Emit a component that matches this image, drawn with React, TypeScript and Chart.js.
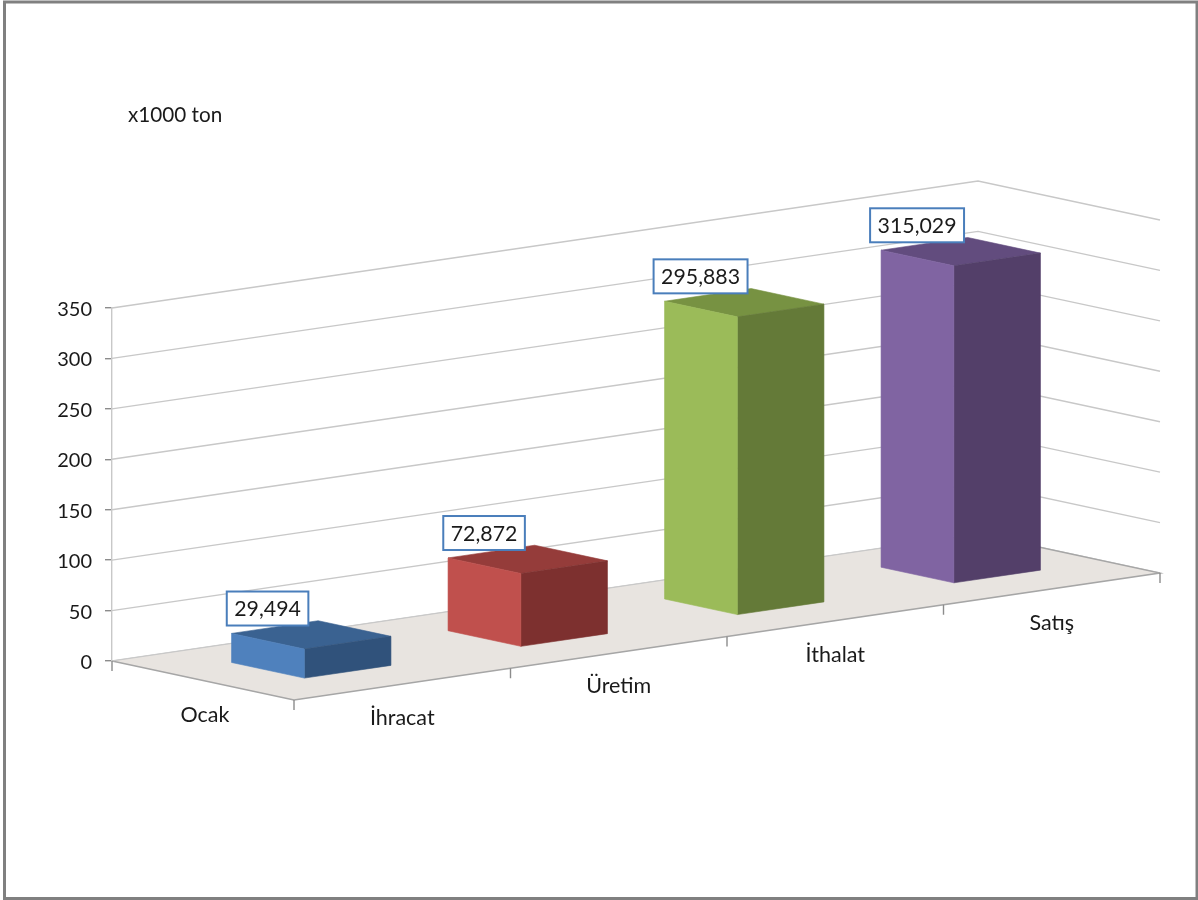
import React, { useEffect, useRef } from "react";
import { Chart, registerables } from "chart.js";

Chart.register(...registerables);

const categories = ["İhracat", "Üretim", "İthalat", "Satış"];
const seriesName = "Ocak";
const values = [29.494, 72.872, 295.883, 315.029];
const unitLabel = "x1000 ton";

const frontColors = ["#4F81BD", "#C0504D", "#9BBB59", "#8064A2"];
const topColors = ["#3A6291", "#953C3A", "#779242", "#624C7E"];
const sideColors = ["#30527B", "#7D302F", "#647A38", "#533F69"];

const FONT = "Lato, 'Open Sans', sans-serif";
const TEXT = "#1a1a1a";
const GRID = "#c8c8c8";
const AXIS = "#a6a6a6";
const FLOOR = "#E8E4E0";
const BOX = "#4A7EBB";

// oblique projection of the 3-D box: depth runs to the lower right, categories rise to the right
const DEPTH_X = 182;
const DEPTH_Y = 39;
const RISE = 127;

const chart3d = {
  id: "chart3d",
  beforeDatasetsDraw(chart: any) {
    const { ctx, chartArea: a, scales } = chart;
    const w = a.right - a.left;
    const P = (x: number, y: number, v: number) => [
      x + DEPTH_X * v,
      y - (RISE * (x - a.left)) / w + DEPTH_Y * v,
    ];
    const line = (pts: number[][], color: string, lw = 1.4) => {
      ctx.beginPath();
      pts.forEach((p, i) => (i ? ctx.lineTo(p[0], p[1]) : ctx.moveTo(p[0], p[1])));
      ctx.strokeStyle = color;
      ctx.lineWidth = lw;
      ctx.stroke();
    };
    ctx.save();
    // page frame
    ctx.strokeStyle = "#808080";
    ctx.lineWidth = 3;
    ctx.strokeRect(4.5, 2, 1192.5, 896.5);

    // unit caption
    ctx.fillStyle = TEXT;
    ctx.font = `20.7px ${FONT}`;
    ctx.textAlign = "left";
    ctx.textBaseline = "middle";
    ctx.fillText(unitLabel, 128, 115);

    // wall grid lines, one for each value tick
    scales.y.ticks.forEach((t: any) => {
      const y = scales.y.getPixelForValue(t.value);
      line([[a.left, y], P(a.right, y, 0), P(a.right, y, 1)], GRID);
    });

    // floor
    const b = a.bottom;
    const floor = [P(a.left, b, 0), P(a.right, b, 0), P(a.right, b, 1), P(a.left, b, 1)];
    ctx.beginPath();
    floor.forEach((p, i) => (i ? ctx.lineTo(p[0], p[1]) : ctx.moveTo(p[0], p[1])));
    ctx.closePath();
    ctx.fillStyle = FLOOR;
    ctx.fill();
    line([floor[0], floor[3], floor[2], floor[1]], AXIS, 1.4);
    line([floor[0], floor[1]], GRID, 1);

    // category ticks on the floor's front edge and the depth-axis tick
    const n = categories.length;
    for (let i = 0; i <= n; i++) {
      const p = P(a.left + (w * i) / n, b, 1);
      line([p, [p[0], p[1] + 10]], "#8c8c8c", 1.4);
    }
    line([[a.left, b], [a.left, b + 10]], "#8c8c8c", 1.4);

    // category labels and the series name on the depth axis
    ctx.fillStyle = TEXT;
    ctx.font = `21.5px ${FONT}`;
    ctx.textAlign = "center";
    categories.forEach((c, i) => {
      const p = P(scales.x.getPixelForTick(i), b, 1);
      ctx.fillText(c, p[0], p[1] + 34);
    });
    const mid = P(a.left, b, 0.5);
    ctx.fillText(seriesName, mid[0] + 2, mid[1] + 35);
    ctx.restore();
  },
  afterDatasetsDraw(chart: any) {
    const { ctx, chartArea: a } = chart;
    const w = a.right - a.left;
    const P = (x: number, y: number, v: number) => [
      x + DEPTH_X * v,
      y - (RISE * (x - a.left)) / w + DEPTH_Y * v,
    ];
    const poly = (pts: number[][], color: string) => {
      ctx.beginPath();
      pts.forEach((p, i) => (i ? ctx.lineTo(p[0], p[1]) : ctx.moveTo(p[0], p[1])));
      ctx.closePath();
      ctx.fillStyle = color;
      ctx.strokeStyle = color;
      ctx.lineWidth = 0.6;
      ctx.fill();
      ctx.stroke();
    };
    const meta = chart.getDatasetMeta(0);
    ctx.save();
    const bars = meta.data.map((el: any) => el.getProps(["x", "y", "base", "width"], true));
    bars.forEach((bar: any, i: number) => {
      const l = bar.x - bar.width / 2;
      const r = bar.x + bar.width / 2;
      const v0 = 0.3;
      const v1 = 0.7;
      poly([P(l, bar.y, v0), P(r, bar.y, v0), P(r, bar.y, v1), P(l, bar.y, v1)], topColors[i]);
      poly([P(l, bar.y, v1), P(r, bar.y, v1), P(r, bar.base, v1), P(l, bar.base, v1)], sideColors[i]);
      poly([P(l, bar.y, v0), P(l, bar.y, v1), P(l, bar.base, v1), P(l, bar.base, v0)], frontColors[i]);
    });
    ctx.font = `21.3px ${FONT}`;
    ctx.textAlign = "center";
    ctx.textBaseline = "middle";
    bars.forEach((bar: any, i: number) => {
      const text = values[i].toFixed(3).replace(".", ",");
      const c = P(bar.x, bar.y, 0.26);
      const cx = c[0];
      const cy = c[1] - 17;
      const tw = ctx.measureText(text).width + 15;
      const th = 34;
      ctx.fillStyle = "#ffffff";
      ctx.fillRect(cx - tw / 2, cy - th / 2, tw, th);
      ctx.strokeStyle = BOX;
      ctx.lineWidth = 2;
      ctx.strokeRect(cx - tw / 2, cy - th / 2, tw, th);
      ctx.fillStyle = TEXT;
      ctx.fillText(text, cx, cy + 1);
    });
    ctx.restore();
  },
};

export default function App() {
  const ref = useRef<HTMLCanvasElement>(null);
  useEffect(() => {
    const chart = new Chart(ref.current as HTMLCanvasElement, {
      type: "bar",
      data: {
        labels: categories,
        datasets: [
          {
            label: seriesName,
            data: values,
            backgroundColor: "transparent",
            barPercentage: 0.4,
            categoryPercentage: 1,
          },
        ],
      },
      options: {
        responsive: false,
        animation: false,
        devicePixelRatio: 1,
        layout: { padding: { left: 0, right: 220, top: 308, bottom: 239 } },
        plugins: { legend: { display: false }, tooltip: { enabled: false } },
        scales: {
          x: { display: false },
          y: {
            min: 0,
            max: 350,
            afterFit: (s: any) => {
              s.width = 112;
            },
            border: { display: true, color: GRID, width: 1.4 },
            grid: { drawOnChartArea: false, drawTicks: true, tickLength: 7, color: "#8c8c8c", lineWidth: 1.4 },
            ticks: {
              stepSize: 50,
              padding: 13,
              labelOffset: 1.5,
              color: TEXT,
              font: { family: FONT, size: 20 },
            },
          },
        },
      },
      plugins: [chart3d],
    } as any);
    return () => chart.destroy();
  }, []);
  return (
    <div style={{ position: "fixed", left: 0, top: 0, width: 1198, height: 900, background: "#fff" }}>
      <canvas ref={ref} width={1198} height={900} style={{ display: "block" }} />
    </div>
  );
}
